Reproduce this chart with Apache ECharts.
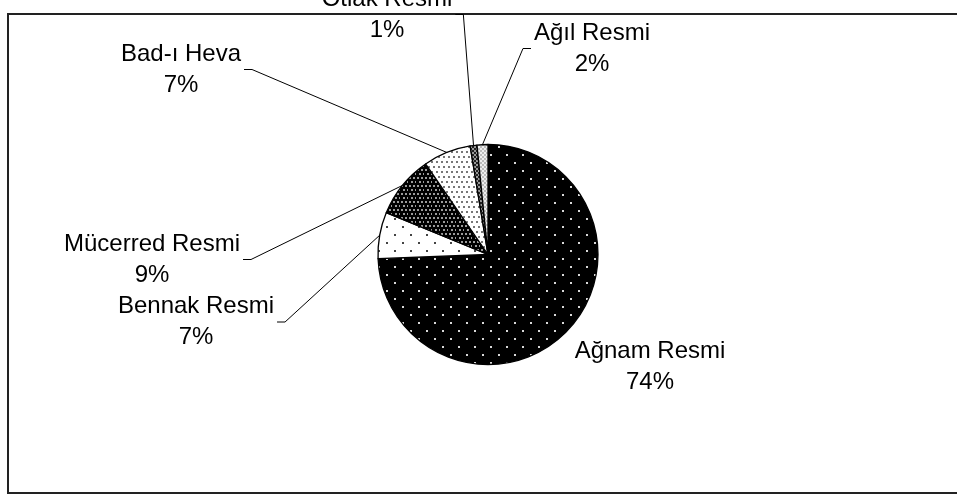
<!DOCTYPE html>
<html>
<head>
<meta charset="utf-8">
<script src="https://cdn.jsdelivr.net/npm/echarts@6/dist/echarts.min.js"></script>
<style>
  html, body { margin: 0; padding: 0; background: #fff; }
  #chart { width: 957px; height: 495px; }
</style>
</head>
<body>
<div id="chart"></div>
<script>
// ---- data ----
const categories = ['Ağnam Resmi', 'Bennak Resmi', 'Mücerred Resmi', 'Bad-ı Heva', 'Otlak Resmi', 'Ağıl Resmi'];
const shares = [74.4, 6.8, 9.2, 7.0, 1.0, 1.6];

// ---- layout (label centres, px) ----
const labelSpots = [
  { x: 650, y: 366.5, line: false },
  { x: 196, y: 322, line: true },
  { x: 152, y: 259.5, line: true },
  { x: 181, y: 69.5, line: true },
  { x: 387, y: 14.5, line: true },
  { x: 592, y: 48.5, line: true }
];

// ---- patterns ----
function makePattern(w, h, bg, dots, dotColor, dotSize) {
  const c = document.createElement('canvas');
  c.width = w; c.height = h;
  const g = c.getContext('2d');
  g.fillStyle = bg; g.fillRect(0, 0, w, h);
  g.fillStyle = dotColor;
  dots.forEach(function (d) { g.fillRect(d[0], d[1], dotSize, dotSize); });
  return { image: c, repeat: 'repeat' };
}
function makeChecker(w, bgA, bgB) {
  const c = document.createElement('canvas');
  c.width = w; c.height = w;
  const g = c.getContext('2d');
  g.fillStyle = bgA; g.fillRect(0, 0, w, w);
  g.fillStyle = bgB;
  g.fillRect(0, 0, w / 2, w / 2); g.fillRect(w / 2, w / 2, w / 2, w / 2);
  return { image: c, repeat: 'repeat' };
}
const fills = [
  makePattern(16, 16, '#000', [[2, 2], [10, 10]], '#d8d8d8', 2),
  makePattern(16, 16, '#fff', [[2, 2], [10, 10]], '#444', 2),
  makePattern(8, 8, '#000', [[1, 1], [5, 1], [3, 5], [7, 5]], '#9a9a9a', 2),
  makePattern(10, 10, '#fff', [[1, 1], [6, 1], [3, 6], [8, 6]], '#777', 2),
  makeChecker(4, '#222', '#999'),
  makeChecker(4, '#bbb', '#eee')
];

const chart = echarts.init(document.getElementById('chart'));
chart.setOption({
  animation: false,
  backgroundColor: '#fff',
  graphic: [{
    type: 'rect',
    shape: { x: 8, y: 14, width: 1000, height: 479 },
    style: { fill: 'none', stroke: '#222', lineWidth: 2 },
    silent: true
  }],
  series: [{
    type: 'pie',
    center: [488, 254.5],
    radius: 110,
    startAngle: 90,
    clockwise: true,
    percentPrecision: 0,
    avoidLabelOverlap: false,
    itemStyle: { borderColor: '#000', borderWidth: 1.3 },
    label: {
      show: true,
      position: 'outside',
      formatter: '{b}\n{d}%',
      fontFamily: 'Liberation Sans, Arial, sans-serif',
      fontSize: 24,
      lineHeight: 31,
      color: '#000',
      align: 'center'
    },
    labelLine: { show: true, length: 10, length2: 10, lineStyle: { color: '#000', width: 1 } },
    emphasis: { disabled: true },
    labelLayout: function (params) {
      const s = labelSpots[params.dataIndex];
      const r = params.labelRect;
      const anchor = params.labelLinePoints ? params.labelLinePoints[0] : [s.x, s.y];
      let pts;
      if (!s.line) {
        pts = [[s.x, s.y], [s.x, s.y], [s.x, s.y]];
      } else if (anchor[0] > s.x) {
        const ex = s.x + r.width / 2 + 3;
        pts = [[ex, s.y], [ex + 8, s.y], anchor];
      } else {
        const ex = s.x - r.width / 2 - 3;
        pts = [[ex, s.y], [ex - 8, s.y], anchor];
      }
      return {
        x: s.x, y: s.y, align: 'center', verticalAlign: 'middle',
        labelLinePoints: pts
      };
    },
    data: categories.map(function (name, i) {
      return { name: name, value: shares[i], itemStyle: { color: fills[i] } };
    })
  }]
});
</script>
</body>
</html>
